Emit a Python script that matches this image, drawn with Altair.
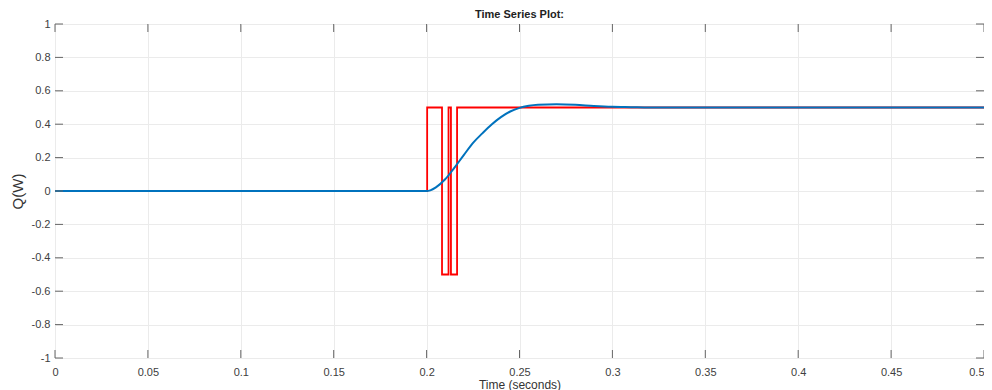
import altair as alt
import pandas as pd

# Red (switching) signal: step times and values
red_t = [0.0, 0.2003, 0.2003, 0.2083, 0.2083, 0.2118, 0.2118, 0.2131, 0.2131, 0.2164, 0.2164, 0.5]
red_v = [0.0, 0.0, 0.5, 0.5, -0.5, -0.5, 0.5, 0.5, -0.5, -0.5, 0.5, 0.5]

# Blue (smooth response) signal
blue_t = [0.0, 0.2, 0.202, 0.205, 0.21, 0.215, 0.22, 0.225, 0.23, 0.235, 0.24, 0.245,
          0.25, 0.255, 0.26, 0.27, 0.28, 0.29, 0.30, 0.31, 0.32, 0.34, 0.5]
blue_v = [0.0, 0.0, 0.004, 0.022, 0.07, 0.14, 0.215, 0.288, 0.345, 0.398, 0.442, 0.476,
          0.498, 0.51, 0.516, 0.519, 0.516, 0.509, 0.504, 0.502, 0.5, 0.5, 0.5]

x_ticks = [0, 0.05, 0.1, 0.15, 0.2, 0.25, 0.3, 0.35, 0.4, 0.45, 0.5]
y_ticks = [-1, -0.8, -0.6, -0.4, -0.2, 0, 0.2, 0.4, 0.6, 0.8, 1]

red_df = pd.DataFrame({"t": red_t, "v": red_v, "o": list(range(len(red_t)))})
blue_df = pd.DataFrame({"t": blue_t, "v": blue_v, "o": list(range(len(blue_t)))})
xt_df = pd.DataFrame({"t": x_ticks})
yt_df = pd.DataFrame({"v": y_ticks})

W, H = 929, 334
FONT = "Liberation Sans"
xscale = alt.Scale(domain=[0, 0.5], nice=False)
yscale = alt.Scale(domain=[-1, 1], nice=False)

xaxis = alt.Axis(values=x_ticks, tickCount=len(x_ticks), labelExpr="'' + datum.value",
                 title="Time (seconds)",
                 grid=True, gridColor="#ebebeb", ticks=False, domain=False,
                 labelFontSize=11, labelColor="#404040", labelFont=FONT, labelPadding=8,
                 labelAlign={"condition": {"test": "datum.value >= 0.5", "value": "right"},
                             "value": "center"},
                 titleFontSize=12, titleFontWeight="normal", titleColor="#333333",
                 titleFont=FONT, titlePadding=2, labelFlush=False, labelOverlap=False)
yaxis = alt.Axis(values=y_ticks, tickCount=len(y_ticks), labelExpr="'' + datum.value",
                 title="Q(W)",
                 grid=True, gridColor="#ebebeb", ticks=False, domain=False,
                 labelFontSize=11, labelColor="#404040", labelFont=FONT, labelPadding=5,
                 titleFontSize=15, titleFontWeight="normal", titleColor="#333333",
                 titleFont=FONT, titlePadding=6, labelOverlap=False, labelFlush=False)

red = alt.Chart(red_df).mark_line(color="#ff0000", strokeWidth=1.8, interpolate="linear").encode(
    x=alt.X("t:Q", scale=xscale, axis=xaxis),
    y=alt.Y("v:Q", scale=yscale, axis=yaxis),
    order="o:Q",
)
blue = alt.Chart(blue_df).mark_line(color="#0072bd", strokeWidth=2, interpolate="monotone").encode(
    x=alt.X("t:Q", scale=xscale),
    y=alt.Y("v:Q", scale=yscale),
    order="o:Q",
)

tick_color = "#666666"
top_ticks = alt.Chart(xt_df).mark_rule(color=tick_color, strokeWidth=1).encode(
    x=alt.X("t:Q", scale=xscale), y=alt.value(0), y2=alt.value(8))
bot_ticks = alt.Chart(xt_df).mark_rule(color=tick_color, strokeWidth=1).encode(
    x=alt.X("t:Q", scale=xscale), y=alt.value(H), y2=alt.value(H - 8))
left_ticks = alt.Chart(yt_df).mark_rule(color=tick_color, strokeWidth=1).encode(
    y=alt.Y("v:Q", scale=yscale), x=alt.value(0), x2=alt.value(8))
right_ticks = alt.Chart(yt_df).mark_rule(color=tick_color, strokeWidth=1).encode(
    y=alt.Y("v:Q", scale=yscale), x=alt.value(W), x2=alt.value(W - 8))

chart = alt.layer(red, blue, top_ticks, bot_ticks, left_ticks, right_ticks).properties(
    width=W, height=H,
    title=alt.TitleParams("Time Series Plot:", fontSize=11, fontWeight="bold", font=FONT,
                          color="#222222", anchor="middle", offset=-2),
    autosize=alt.AutoSizeParams(type="none"),
    padding={"left": 47, "top": 16, "right": 0, "bottom": 32},
).configure_view(stroke="#8a8a8a", strokeWidth=1.2).configure(background="white")

chart.save("out.html", embed_options={"renderer": "svg", "actions": False})
